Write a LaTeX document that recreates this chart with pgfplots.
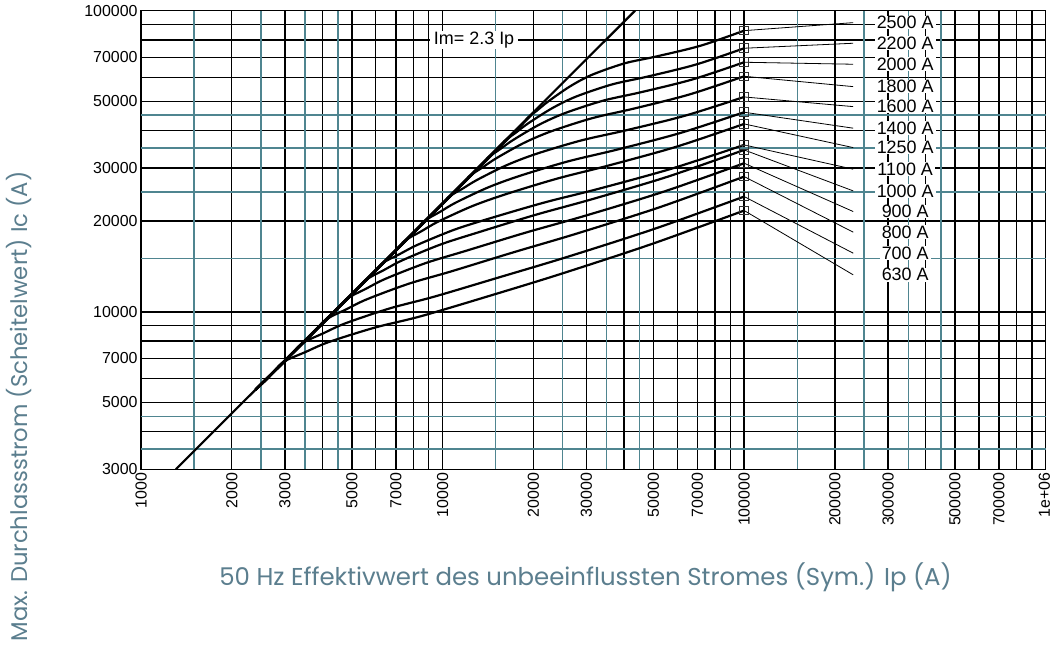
\documentclass[border=0pt]{standalone}
\usepackage{pgfplots}
\pgfplotsset{compat=1.18}
\usepackage{fontspec}
\setmainfont{Liberation Sans}
\newfontfamily\labfont{Poppins}
\definecolor{gridteal}{HTML}{4F8590}
\definecolor{labcol}{HTML}{5B7E8E}
\tikzset{lab/.style={fill=white, inner xsep=2bp, inner ysep=0.5bp, font=\fontsize{18}{18}\selectfont}}
\begin{document}
\begin{tikzpicture}[x=1bp,y=1bp]
\useasboundingbox (0,0) rectangle (1052,650);
\begin{axis}[
  at={(141bp,180.7bp)}, anchor=south west,
  scale only axis, width=904.7bp, height=458.6bp,
  xmode=log, ymode=log,
  xmin=1000, xmax=1000000, ymin=3000, ymax=100000,
  xtick={1000,2000,3000,4000,5000,6000,7000,8000,9000,10000,20000,30000,40000,50000,60000,70000,80000,90000,100000,200000,300000,400000,500000,600000,700000,800000,900000,1000000},
  xticklabels={1000,2000,3000,,5000,,7000,,,10000,20000,30000,,50000,,70000,,,100000,200000,300000,,500000,,700000,,,\raisebox{3bp}{1e+06}},
  ytick={3000,4000,5000,6000,7000,8000,9000,10000,20000,30000,40000,50000,60000,70000,80000,90000,100000},
  yticklabels={3000,,5000,,7000,,,10000,20000,30000,,50000,,70000,,,100000},
  extra x ticks={1500,2500,3500,4500,15000,25000,35000,45000,150000,250000,350000,450000},
  extra x tick labels={},
  extra y ticks={3500,4500,15000,25000,35000,45000},
  extra y tick labels={},
  extra x tick style={major grid style={gridteal, line width=1.4bp}},
  extra y tick style={major grid style={gridteal, line width=1.4bp}},
  grid=major,
  major grid style={black, line width=1.4bp},
  major tick length=0pt, minor tick length=0pt,
  tick label style={font=\fontsize{16}{18}\selectfont},
  x tick label style={rotate=90, anchor=east},
  axis line style={black, line width=1.4bp},
  curve/.style={black, line width=2.2bp, smooth, no marks},
  leader/.style={black, line width=0.8bp, no marks},
]
% Im = 2.3 Ip
\addplot[black, line width=2.2bp, no marks] coordinates {(1304.35,3000) (43478,100000)};
% curves
\addplot[curve] coordinates {(2400,5520) (2630,5995) (2951,6788) (3520,7362) (4198,7941) (5970,8867) (8492,9674) (14400,11320) (24430,13320) (49430,16800) (100000,21690)};
\addplot[curve] coordinates {(2400,5520) (3034,6914) (3404,7829) (4031,8494) (4773,9167) (6692,10270) (9384,11230) (15580,13060) (25870,15210) (50870,18920) (100000,24140)};
\addplot[curve] coordinates {(2400,5520) (3634,8280) (4078,9379) (4785,10185) (5616,11010) (7733,12400) (10650,13610) (17210,15770) (27810,18180) (52740,22290) (100000,28120)};
\addplot[curve] coordinates {(2400,5520) (4259,9705) (4778,10990) (5564,11920) (6477,12880) (8779,14510) (11900,15920) (18780,18300) (29630,20830) (54440,25110) (100000,31150)};
\addplot[curve] coordinates {(2400,5520) (4914,11200) (5512,12680) (6372,13740) (7367,14840) (9842,16730) (13150,18370) (20320,20990) (31380,23670) (56020,28140) (100000,34480)};
\addplot[curve] coordinates {(2400,5520) (5588,12730) (6269,14420) (7199,15540) (8270,16700) (10910,18720) (14390,20450) (21800,23080) (33040,25640) (57470,29880) (100000,35830)};
\addplot[curve] coordinates {(2400,5520) (6640,15130) (7451,17140) (8484,18490) (9661,19920) (12530,22430) (16230,24590) (23980,27690) (35390,30580) (59480,35310) (100000,42070)};
\addplot[curve] coordinates {(2400,5520) (7738,17640) (8682,19970) (9811,21480) (11080,23070) (14160,25890) (18070,28300) (26080,31600) (37620,34500) (61340,39240) (100000,46000)};
\addplot[curve] coordinates {(2400,5520) (9268,21120) (10400,23920) (11640,25630) (13040,27450) (16350,30720) (20500,33490) (28800,37070) (40450,40030) (63600,44780) (100000,51700)};
\addplot[curve] coordinates {(2400,5520) (10860,24760) (12190,28040) (13540,30120) (15040,32320) (18570,36340) (22920,39760) (31430,43990) (43100,47300) (65660,52650) (100000,60560)};
\addplot[curve] coordinates {(2400,5520) (12520,28540) (14050,32310) (15500,34660) (17100,37150) (20810,41720) (25320,45600) (33980,50220) (45610,53640) (67520,59140) (100000,67420)};
\addplot[curve] coordinates {(2400,5520) (14240,32460) (15980,36750) (17520,39390) (19200,42210) (23070,47420) (27700,51840) (36480,56900) (48020,60470) (69280,66260) (100000,75035)};
\addplot[curve] coordinates {(2400,5520) (16900,38530) (18970,43630) (20610,46680) (22400,49950) (26450,56040) (31230,61200) (40080,66830) (51430,70550) (71730,76510) (100000,85840)};
% leaders
\addplot[leader] coordinates {(100000,85840) (229900,91250)};
\addplot[leader] coordinates {(100000,75035) (229900,77960)};
\addplot[leader] coordinates {(100000,67420) (229900,66400)};
\addplot[leader] coordinates {(100000,60560) (229900,55950)};
\addplot[leader] coordinates {(100000,51700) (229900,48020)};
\addplot[leader] coordinates {(100000,46000) (229900,40720)};
\addplot[leader] coordinates {(100000,42070) (229900,35110)};
\addplot[leader] coordinates {(100000,35830) (229900,29760)};
\addplot[leader] coordinates {(100000,34480) (229900,25210)};
\addplot[leader] coordinates {(100000,31150) (229900,21530)};
\addplot[leader] coordinates {(100000,28120) (229900,18390)};
\addplot[leader] coordinates {(100000,24140) (229900,15660)};
\addplot[leader] coordinates {(100000,21690) (229900,13270)};
% markers
\addplot[only marks, mark=square, mark size=4.3bp, mark options={draw=black!80, line width=0.9bp, fill=none}] coordinates {(100000,85840) (100000,75035) (100000,67420) (100000,60560) (100000,51700) (100000,46000) (100000,42070) (100000,35830) (100000,34480) (100000,31150) (100000,28120) (100000,24140) (100000,21690)};
% labels
\node[lab] at (axis cs:342000,91250) {2500 A};
\node[lab] at (axis cs:342000,77960) {2200 A};
\node[lab] at (axis cs:342000,66400) {2000 A};
\node[lab] at (axis cs:342000,55950) {1800 A};
\node[lab] at (axis cs:342000,48020) {1600 A};
\node[lab] at (axis cs:342000,40720) {1400 A};
\node[lab] at (axis cs:342000,35110) {1250 A};
\node[lab] at (axis cs:342000,29760) {1100 A};
\node[lab] at (axis cs:342000,25210) {1000 A};
\node[lab] at (axis cs:342000,21530) {900 A};
\node[lab] at (axis cs:342000,18390) {800 A};
\node[lab] at (axis cs:342000,15660) {700 A};
\node[lab] at (axis cs:342000,13270) {630 A};
\node[lab, inner xsep=4bp] at (axis cs:12720,79950) {Im= 2.3 Ip};
\end{axis}
\node[font=\labfont\fontsize{24.5}{28}\selectfont, text=labcol] at (585.5,73) {50 Hz Effektivwert des unbeeinflussten Stromes (Sym.) Ip (A)};
\node[font=\labfont\fontsize{22.8}{26}\selectfont, text=labcol, rotate=90] at (19,243.5) {Max. Durchlassstrom (Scheitelwert) Ic (A)};
\end{tikzpicture}
\end{document}
